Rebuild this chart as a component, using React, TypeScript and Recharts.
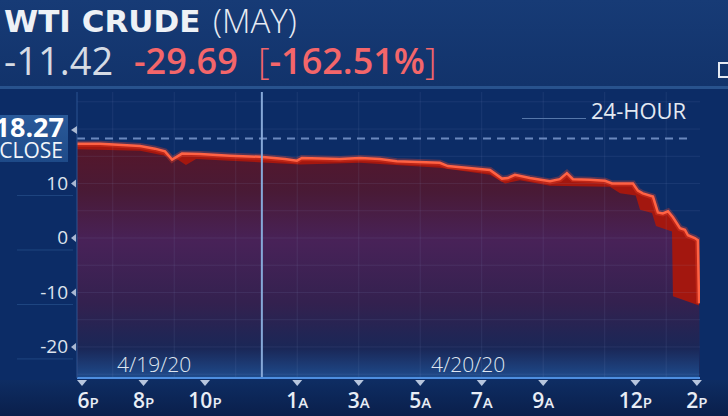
import { ComposedChart, Area, Line, XAxis, YAxis, ReferenceLine } from "recharts";

// WTI crude (May contract), 24-hour view, hours counted from 6 PM 4/19/20
const priceHours = [
  -0.16, 0.59, 1.89, 2.37, 2.7, 2.93, 3.25, 3.84, 4.81, 5.79, 6.6, 6.99, 7.15, 8.39, 9.04, 9.69,
  10.24, 11.64, 11.9, 13.27, 13.66, 13.85, 14.08, 14.57, 15.22, 15.54, 15.77, 15.97, 16.52, 17.01,
  17.24, 17.92, 18.08, 18.24, 18.57, 18.73, 18.89, 19.06, 19.22, 19.45, 19.61, 19.71, 19.93, 20.03, 20.07,
];
const priceValues = [
  17.3, 17.3, 16.9, 16.4, 15.9, 14.4, 15.5, 15.4, 15.1, 14.9, 14.5, 14.2, 14.7, 14.5, 14.7, 14.5,
  14.1, 13.8, 13.2, 12.5, 10.9, 11.0, 11.6, 11.0, 10.4, 10.8, 11.9, 10.8, 10.7, 10.5,
  10.0, 10.0, 8.7, 8.2, 7.6, 4.7, 4.5, 4.9, 3.8, 1.8, 1.5, 0.5, 0.0, -0.4, -12.0,
];
// lower edge of the bright red band under the price line
const shadeHours = [
  -0.16, 1.89, 2.7, 3.06, 3.38, 3.71, 4.81, 7.09, 9.04, 11.64, 13.27, 13.76, 14.24, 15.22, 17.17,
  17.5, 18.01, 18.15, 18.54, 18.67, 19.19, 19.22, 20.07,
];
const shadeValues = [
  16.3, 16.0, 15.1, 14.6, 13.4, 14.5, 14.2, 13.5, 13.8, 12.9, 11.6, 10.0, 10.6, 9.6, 9.4,
  8.2, 7.8, 5.2, 4.6, 2.2, 1.2, -10.7, -12.4,
];

const xTicks = [0, 2, 4, 7, 9, 11, 13, 15, 18, 20];
const xTickNums = ["6", "8", "10", "1", "3", "5", "7", "9", "12", "2"];
const xTickSuffix = ["P", "P", "P", "A", "A", "A", "A", "A", "P", "P"];
const yTicks = [10, 0, -10, -20];
const gridValues = [-25, -20, -15, -10, -5, 0, 5, 10, 15, 20, 25];
const gridHours = [1, 3, 5, 7, 9, 11, 13, 15, 17, 19];
const previousClose = 18.27;
const sessionBreak = 5.85;

const priceData = priceHours.map((h, i) => ({ h, price: priceValues[i] }));
const shadeData = shadeHours.map((h, i) => ({ h, shade: shadeValues[i] }));

const FONT = "'Open Sans', sans-serif";

function YTick({ y, payload }: any) {
  return (
    <g>
      <line x1={17} x2={73} y1={y + 12} y2={y + 12} stroke="#1f4681" strokeWidth={1} />
      <text x={68} y={y} dy={6.5} textAnchor="end" fontSize={19} fill="#dce3ed" fontFamily={FONT}>
        {payload.value}
      </text>
      <path d={`M71,${y} L76,${y - 4} L76,${y + 4} Z`} fill="#a9b8d2" />
    </g>
  );
}

function XTick({ x, payload }: any) {
  const i = xTicks.indexOf(payload.value);
  return (
    <g>
      <path d={`M${x - 5},380 L${x + 5},380 L${x},386 Z`} fill="#b7c6de" />
      <text x={x + (i === 0 ? 6 : 0)} y={408} textAnchor="middle" fill="#e8edf5" fontFamily={FONT} fontWeight={600}>
        <tspan fontSize={21}>{xTickNums[i]}</tspan>
        <tspan fontSize={15}>{xTickSuffix[i]}</tspan>
      </text>
    </g>
  );
}

export default function App() {
  return (
    <div
      style={{
        position: "absolute", left: 0, top: 0, width: 728, height: 416, overflow: "hidden",
        background: "#0c2c66", fontFamily: FONT,
      }}
    >
      <div style={{ position: "absolute", left: 0, top: 0, width: 728, height: 86, background: "linear-gradient(#173b76, #12336b)" }} />
      <div style={{ position: "absolute", left: 0, top: 86, width: 728, height: 3, background: "#28528d" }} />
      <div style={{ position: "absolute", left: 0, top: 380, width: 728, height: 36, background: "linear-gradient(#0e2d63, #0a1f4b)" }} />

      <div style={{ position: "absolute", left: 0, top: 0 }}>
        <ComposedChart width={728} height={416} margin={{ top: 92, right: 28, bottom: 0, left: 0 }}>
          <defs>
            <linearGradient id="shadeFill" gradientUnits="userSpaceOnUse" x1={0} y1={130} x2={0} y2={378}>
              <stop offset="0" stopColor="#5a1526" />
              <stop offset="0.25" stopColor="#491a36" />
              <stop offset="0.45" stopColor="#482258" />
              <stop offset="0.7" stopColor="#33214f" />
              <stop offset="0.88" stopColor="#1a2757" />
              <stop offset="1" stopColor="#1e4b8c" />
            </linearGradient>
          </defs>
          <XAxis
            dataKey="h" type="number" domain={[-0.163, 20.1]} allowDataOverflow ticks={xTicks} interval={0}
            height={38} tick={<XTick />} tickLine={false} axisLine={{ stroke: "#4d8ee0", strokeWidth: 2 }}
          />
          <YAxis
            type="number" domain={[-25.7, 26.8]} allowDataOverflow ticks={yTicks} interval={0} width={77}
            tick={<YTick />} tickLine={false} axisLine={{ stroke: "#2a5391", strokeWidth: 1 }}
          />
          <Area
            data={priceData} dataKey="price" type="linear" baseValue="dataMin" stroke="none"
            fill="#a3170f" fillOpacity={1} isAnimationActive={false} dot={false} activeDot={false}
          />
          <Area
            data={shadeData} dataKey="shade" type="linear" baseValue="dataMin" stroke="none"
            fill="url(#shadeFill)" fillOpacity={1} isAnimationActive={false} dot={false} activeDot={false}
          />
          {gridValues.map((v) => (
            <ReferenceLine key={"gy" + v} y={v} stroke="#9db4e0" strokeOpacity={0.1} />
          ))}
          {gridHours.map((h) => (
            <ReferenceLine key={"gx" + h} x={h} stroke="#9db4e0" strokeOpacity={0.1} />
          ))}
          <ReferenceLine
            segment={[{ x: -0.163, y: previousClose }, { x: 19.7, y: previousClose }]}
            stroke="#6a88bd" strokeWidth={2} strokeDasharray="8 6"
          />
          <Line
            data={priceData} dataKey="price" type="linear" stroke="#ff4a2a" strokeOpacity={0.3} strokeWidth={6}
            dot={false} activeDot={false} isAnimationActive={false}
          />
          <Line
            data={priceData} dataKey="price" type="linear" stroke="#ff6244" strokeWidth={2.5}
            dot={false} activeDot={false} isAnimationActive={false}
          />
          <ReferenceLine x={sessionBreak} stroke="#86a8d8" strokeWidth={2} />
        </ComposedChart>
      </div>

      {/* header */}
      <div style={{ position: "absolute", left: 4, top: 6, fontFamily: "'DejaVu Sans', sans-serif", fontWeight: 700, fontSize: 31, lineHeight: "31px", color: "#eef1f6", whiteSpace: "nowrap" }}>
        WTI CRUDE
      </div>
      <div style={{ position: "absolute", left: 213, top: 4, fontWeight: 300, fontSize: 33, lineHeight: "33px", color: "#e6ebf3", whiteSpace: "nowrap" }}>
        (MAY)
      </div>
      <div style={{ position: "absolute", left: 4, top: 41, fontWeight: 400, fontSize: 38, lineHeight: "38px", color: "#d5dbe4", whiteSpace: "nowrap" }}>
        -11.42
      </div>
      <div style={{ position: "absolute", left: 134, top: 42, fontWeight: 600, fontSize: 36, lineHeight: "38px", color: "#f4666a", whiteSpace: "nowrap" }}>
        -29.69
      </div>
      <div style={{ position: "absolute", left: 258, top: 42, fontWeight: 600, fontSize: 36, lineHeight: "38px", color: "#f4666a", whiteSpace: "nowrap" }}>
        <span style={{ fontWeight: 300 }}>[</span>-162.51%<span style={{ fontWeight: 300 }}>]</span>
      </div>
      <div style={{ position: "absolute", left: 718, top: 62, width: 12, height: 16, border: "2px solid #e4e9f2", boxSizing: "border-box" }} />

      {/* 24-hour tag */}
      <div style={{ position: "absolute", left: 522, top: 118, width: 64, height: 1, background: "#5677aa" }} />
      <div style={{ position: "absolute", left: 591, top: 97, fontSize: 22, lineHeight: "26px", color: "#e3e9f2", whiteSpace: "nowrap" }}>
        24-HOUR
      </div>

      {/* previous close tag */}
      <div style={{ position: "absolute", left: 0, top: 115, width: 68, height: 47, background: "linear-gradient(#2a5a9a, #1e4a88)" }} />
      <div style={{ position: "absolute", right: 728 - 64, top: 112, fontWeight: 700, fontSize: 27, lineHeight: "30px", color: "#ffffff", whiteSpace: "nowrap" }}>
        18.27
      </div>
      <div style={{ position: "absolute", right: 728 - 63, top: 138, fontWeight: 400, fontSize: 21, lineHeight: "24px", color: "#f2f5fa", whiteSpace: "nowrap" }}>
        CLOSE
      </div>
      <svg style={{ position: "absolute", left: 68, top: 124 }} width={10} height={12}>
        <path d="M3,6 L9,2 L9,10 Z" fill="#a9b8d2" />
      </svg>

      {/* date labels */}
      <div style={{ position: "absolute", left: 117, top: 351, fontWeight: 300, fontSize: 21, lineHeight: "26px", color: "#dfe6f0", whiteSpace: "nowrap" }}>
        4/19/20
      </div>
      <div style={{ position: "absolute", left: 431, top: 351, fontWeight: 300, fontSize: 21, lineHeight: "26px", color: "#dfe6f0", whiteSpace: "nowrap" }}>
        4/20/20
      </div>
    </div>
  );
}
